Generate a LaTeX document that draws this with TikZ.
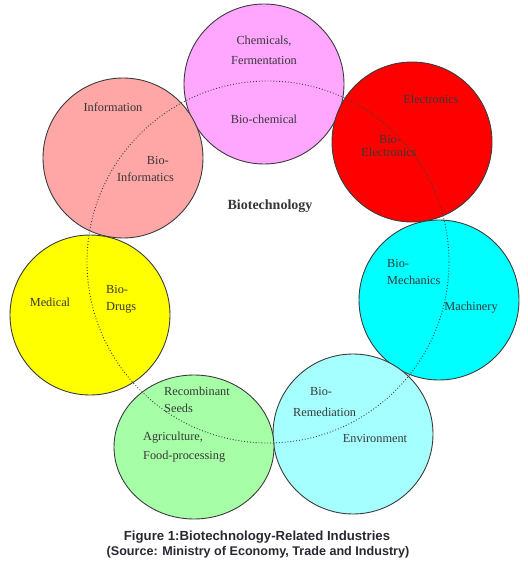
\documentclass[tikz,border=0pt]{standalone}
\usepackage{fontspec}
\setmainfont{Liberation Serif}
\newfontfamily\capfont{Liberation Sans}
\usetikzlibrary{shapes.geometric}
\definecolor{pinkc}{RGB}{255,166,255}
\definecolor{redc}{RGB}{255,0,0}
\definecolor{salmonc}{RGB}{255,166,166}
\definecolor{yellowc}{RGB}{255,255,0}
\definecolor{cyanc}{RGB}{0,255,255}
\definecolor{lcyanc}{RGB}{166,255,255}
\definecolor{lgreenc}{RGB}{166,255,166}
\definecolor{edgec}{RGB}{60,60,60}
\definecolor{txtc}{RGB}{55,55,55}
\definecolor{capc}{RGB}{40,40,48}
\tikzset{
  disc/.style={circle, draw=edgec, line width=0.9pt, minimum size=160pt, inner sep=0pt},
  lbl/.style={text=txtc, font=\fontsize{12.3}{14}\selectfont, inner sep=0pt, text height=8.5pt, text depth=2.5pt},
  core/.style={text=txtc, font=\bfseries\fontsize{14}{16}\selectfont, inner sep=0pt},
  captxt/.style={text=capc, font=\capfont\bfseries, inner sep=0pt}
}
\begin{document}
\begin{tikzpicture}[x=1pt,y=-1pt]
\useasboundingbox (0,0) rectangle (527,569);
% circles
\node[disc, fill=pinkc] (chem) at (264,84) {};
\node[disc, fill=redc] (elec) at (412,142) {};
\node[disc, fill=salmonc] (info) at (123,158) {};
\node[disc, fill=yellowc] (med) at (90,315) {};
\node[disc, fill=cyanc] (mach) at (439,300) {};
\node[disc, fill=lcyanc] (env) at (353,434) {};
\node[ellipse, draw=edgec, line width=0.9pt, fill=lgreenc, minimum width=160pt, minimum height=144pt, inner sep=0pt] (agri) at (194,447) {};
% central biotechnology circle
\coordinate (bc) at (268,262);
\draw[edgec, line width=0.9pt, dotted] (bc) circle[radius=181];
% labels
\node[lbl] (t1) at (264,42) {Chemicals,};
\node[lbl] (t2) at (264,62) {Fermentation};
\node[lbl] (t3) at (264,121) {Bio-chemical};
\node[lbl] (t4) at (431,101) {Electronics};
\node[lbl] (t5) at (390,141) {Bio-};
\node[lbl] (t6) at (389,154) {Electronics};
\node[lbl] (t7) at (113,109) {Information};
\node[lbl, anchor=east] (t8) at (169,162) {Bio-};
\node[lbl, anchor=east] (t9) at (174,179) {Informatics};
\node[lbl] (t10) at (50,303) {Medical};
\node[lbl, anchor=west] (t11) at (106,290) {Bio-};
\node[lbl, anchor=west] (t12) at (106,307) {Drugs};
\node[lbl, anchor=west] (t13) at (387,264) {Bio-};
\node[lbl, anchor=west] (t14) at (387,281) {Mechanics};
\node[lbl] (t15) at (471,307) {Machinery};
\node[lbl, anchor=west] (t16) at (164,392) {Recombinant};
\node[lbl, anchor=west] (t17) at (164,409) {Seeds};
\node[lbl, anchor=west] (t18) at (143,437) {Agriculture,};
\node[lbl, anchor=west] (t19) at (143,456) {Food-processing};
\node[lbl, anchor=west] (t20) at (310,392) {Bio-};
\node[lbl, anchor=west] (t21) at (293,413) {Remediation};
\node[lbl] (t22) at (375,439) {Environment};
\node[core] (bio) at (270,206) {Biotechnology};
% caption
\node[captxt, font=\capfont\bfseries\fontsize{13.2}{15}\selectfont] (cap1) at (257,537) {Figure 1:Biotechnology-Related Industries};
\node[captxt, font=\capfont\bfseries\fontsize{12.6}{15}\selectfont] (cap2) at (258,552) {(Source: Ministry of Economy, Trade and Industry)};
\end{tikzpicture}
\end{document}
